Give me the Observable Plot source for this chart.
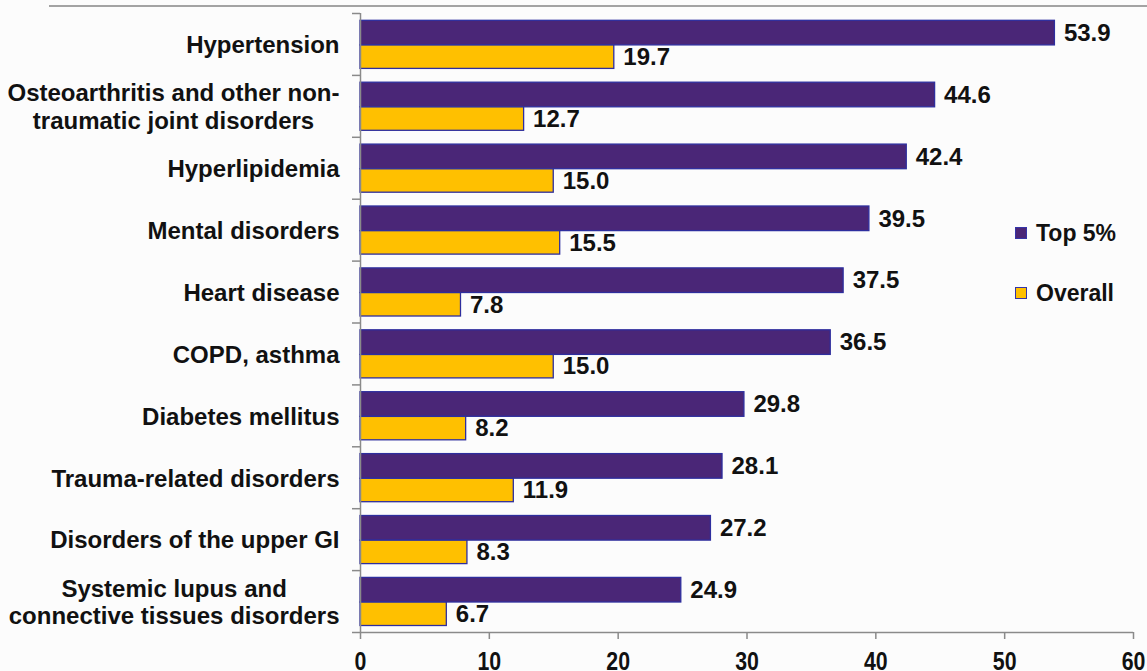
<!DOCTYPE html>
<html>
<head>
<meta charset="utf-8">
<script src="https://cdn.jsdelivr.net/npm/d3@7"></script>
<script src="https://cdn.jsdelivr.net/npm/@observablehq/plot@0.6"></script>
<style>
  html, body { margin: 0; padding: 0; background: #fcfcfc; }
  #wrap { position: relative; width: 1147px; height: 671px; overflow: hidden; }
  #topline { position: absolute; left: 49px; right: 0; top: 5px; height: 2px; background: #a3a3a3; }
  #legend { position: absolute; left: 1015px; top: 219px; font: bold 23px "Liberation Sans", Arial, sans-serif; color: #111; }
  #legend .item { display: flex; align-items: center; height: 28px; margin-bottom: 32px; }
  #legend .sw { width: 10px; height: 10px; border: 1.5px solid #3434a8; margin-right: 9px; }
</style>
</head>
<body>
<div id="wrap">
  <div id="topline"></div>
  <div id="chart"></div>
  <div id="legend"></div>
</div>
<script>
// Conditions ranked by prevalence among the top 5% of spenders
const categories = [
  "Hypertension",
  "Osteoarthritis and other non-\ntraumatic joint disorders",
  "Hyperlipidemia",
  "Mental disorders",
  "Heart disease",
  "COPD, asthma",
  "Diabetes mellitus",
  "Trauma-related disorders",
  "Disorders of the upper GI",
  "Systemic lupus and\nconnective tissues disorders"
];
const top5Values = [53.9, 44.6, 42.4, 39.5, 37.5, 36.5, 29.8, 28.1, 27.2, 24.9];
const overallValues = [19.7, 12.7, 15.0, 15.5, 7.8, 15.0, 8.2, 11.9, 8.3, 6.7];
const seriesNames = ["Top 5%", "Overall"];
const seriesColors = ["#4a2677", "#ffc000"];
const xTicks = [0, 10, 20, 30, 40, 50, 60];

const top5 = categories.map((c, i) => ({category: c, value: top5Values[i], series: seriesNames[0]}));
const overall = categories.map((c, i) => ({category: c, value: overallValues[i], series: seriesNames[1]}));

// Layout
const W = 1147, H = 671;
const mTop = 13, mBottom = 39, mLeft = 360, mRight = 14;
const band = (H - mTop - mBottom) / categories.length;
const unitPx = (W - mLeft - mRight) / (xTicks[xTicks.length - 1] - xTicks[0]);
const tickLen = 8 / unitPx;
const labelFont = "Liberation Sans, Arial, sans-serif";
const barStroke = "#2e2e9e";
const axisGray = "#8a8a8a";

// Width of each category label block, used to centre wrapped labels
const ctx = document.createElement("canvas").getContext("2d");
ctx.font = "bold 24px 'Liberation Sans', Arial, sans-serif";
const blockWidth = s => d3.max(s.split("\n"), l => ctx.measureText(l).width);
const labelGap = 21;

const color = Plot.scale({color: {domain: seriesNames, range: seriesColors}});

const labelMarks = categories.map(c =>
  Plot.text([c], {
    y: d => d,
    text: d => d,
    frameAnchor: "left",
    textAnchor: "middle",
    dx: -(labelGap + blockWidth(c) / 2),
    lineHeight: 1.15,
    fontSize: 24,
    fontWeight: "bold",
    fill: "#111"
  })
);

const chart = Plot.plot({
  width: W,
  height: H,
  marginTop: mTop,
  marginBottom: mBottom,
  marginLeft: mLeft,
  marginRight: mRight,
  style: {background: "transparent", fontFamily: labelFont, fontWeight: "bold", color: "#111"},
  x: {domain: [0, 60], axis: null},
  y: {domain: categories, padding: 0, round: false, axis: null},
  color: {domain: seriesNames, range: seriesColors},
  marks: [
    Plot.barX(top5, {x: "value", y: "category", fill: "series", stroke: barStroke, strokeWidth: 1.3, insetTop: 7.3, insetBottom: 30}),
    Plot.barX(overall, {x: "value", y: "category", fill: "series", stroke: barStroke, strokeWidth: 1.3, insetTop: 32, insetBottom: 6.5}),
    Plot.text(top5, {x: "value", y: "category", text: d => d.value.toFixed(1), textAnchor: "start", dx: 9, dy: -11.3, fontSize: 24, fontWeight: "bold", fill: "#111"}),
    Plot.text(overall, {x: "value", y: "category", text: d => d.value.toFixed(1), textAnchor: "start", dx: 9, dy: 12.8, fontSize: 24, fontWeight: "bold", fill: "#111"}),
    // value axis line
    Plot.ruleX([0], {stroke: axisGray, strokeWidth: 1.5}),
    // category boundary ticks
    Plot.ruleY(categories, {y: d => d, dy: -band / 2, x1: -tickLen, x2: 0, stroke: axisGray, strokeWidth: 1.5}),
    Plot.ruleY(categories.slice(-1), {y: d => d, dy: band / 2, x1: -tickLen, x2: 60, stroke: axisGray, strokeWidth: 1.5}),
    Plot.axisX({ticks: xTicks, label: null, tickSize: 7, tickPadding: 12, stroke: axisGray, strokeWidth: 1.5, fontSize: 26, fontWeight: "bold", fill: "#111", ariaLabel: "x-ticks"}),
    ...labelMarks
  ]
});
document.getElementById("chart").appendChild(chart);

// Narrow the value-axis numerals horizontally
d3.select(chart).selectAll("g[aria-label='x-ticks'] text, g[aria-label='x-ticks tick label'] text, g[aria-label='x-axis tick label'] text").each(function() {
  const el = this;
  const t = el.getAttribute("transform");
  if (t) {
    el.setAttribute("transform", t + " scale(0.82,1)");
  } else {
    const x = +(el.getAttribute("x") || 0), y = +(el.getAttribute("y") || 0);
    el.removeAttribute("x"); el.removeAttribute("y");
    el.setAttribute("transform", `translate(${x},${y}) scale(0.82,1)`);
  }
});

// Series key
const legend = document.getElementById("legend");
seriesNames.forEach((name, i) => {
  const item = document.createElement("div");
  item.className = "item";
  const sw = document.createElement("span");
  sw.className = "sw";
  sw.style.background = color.apply(name);
  const t = document.createElement("span");
  t.textContent = name;
  item.appendChild(sw);
  item.appendChild(t);
  legend.appendChild(item);
});
</script>
</body>
</html>
